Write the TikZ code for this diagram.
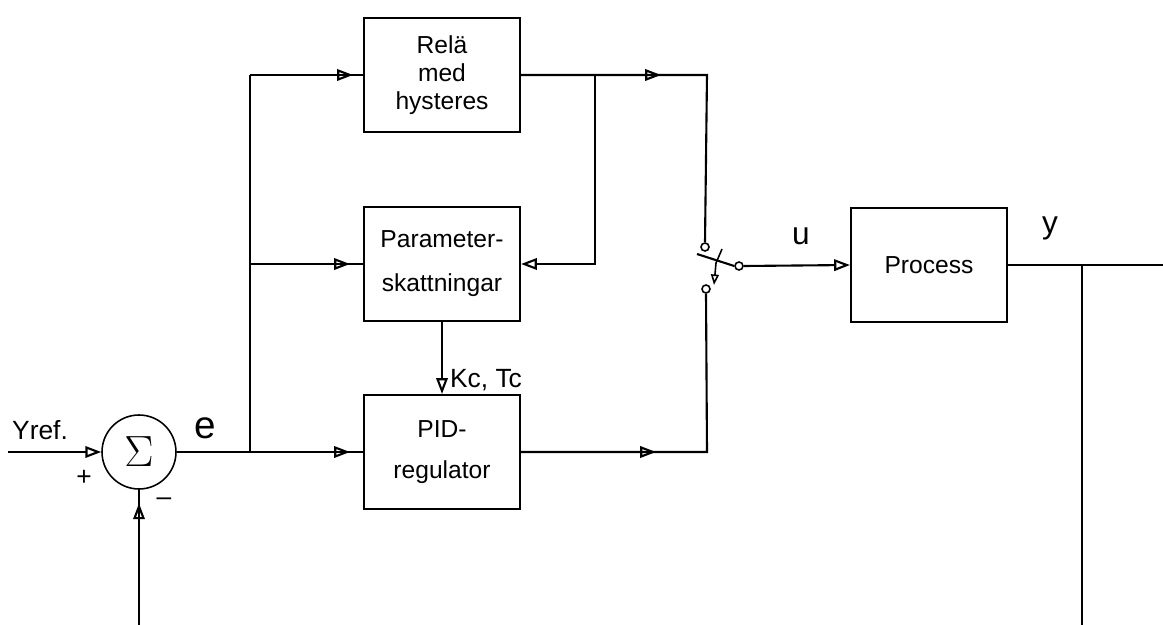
\documentclass[tikz,border=0pt]{standalone}
\usepackage{fontspec}
\setmainfont{Liberation Sans}
\usetikzlibrary{arrows.meta,decorations.markings}
\begin{document}
\begin{tikzpicture}[x=0.02cm,y=-0.02cm,
  line width=1.2pt,
  block/.style={draw, minimum width=3.12cm, minimum height=2.28cm, align=center, font=\fontsize{14}{16}\selectfont},
  sumnode/.style={draw, circle, minimum size=1.48cm, inner sep=0pt, line width=0.9pt},
  contact/.style={draw, circle, fill=white, inner sep=0pt, minimum size=0.16cm, line width=0.9pt},
  lbl/.style={font=\fontsize{15}{17}\selectfont},
  tip/.style={-{Triangle[open,length=9pt,width=6.5pt]}},
  arrowat/.style={postaction={decorate}, decoration={markings, mark=at position #1 with {\arrow{Triangle[open,length=9pt,width=6.5pt]}}}},
]
\useasboundingbox (0,0) rectangle (1163,625);

% blocks
\node[block] (relay) at (442,75) {Relä\\med\\hysteres};
\node[block] (param) at (442,264) {Parameter-\\[9pt]skattningar};
\node[block] (pid) at (442,452) {PID-\\[7pt]regulator};
\node[block] (proc) at (929,265) {Process};
\node[sumnode] (sum) at (139,452) {\fontsize{24}{26}\selectfont$\Sigma$};

% switch contacts
\node[contact] (sw1) at (705,247) {};
\node[contact] (sw2) at (706,289) {};
\node[contact] (swo) at (739,266) {};

% coordinates
\coordinate (yin) at (8,452);
\coordinate (fb) at (139,625);
\coordinate (jE) at (250,452);
\coordinate (jR) at (250,75);
\coordinate (jP) at (250,264);
\coordinate (rc) at (595,75);
\coordinate (rb) at (595,264);
\coordinate (tr) at (707,75);
\coordinate (br) at (707,452);
\coordinate (yj) at (1082,265);
\coordinate (yend) at (1163,265);
\coordinate (fbb) at (1082,625);
\coordinate (blade) at (697,254);
\coordinate (tickA) at (722,249);
\coordinate (tickB) at (716,263);
\coordinate (swarr) at (714,285);

% connectors
\draw[tip] (yin) -- (sum.west);
\draw[arrowat=0.9] (fb) -- (sum.south);
\draw[arrowat=-0.26cm] (sum.east) -- (pid.west);
\draw (jE) -- (jR);
\draw[arrowat=-0.2cm] (jR) -- (relay.west);
\draw[arrowat=-0.26cm] (jP) -- (param.west);
\draw[arrowat=2.8cm] (relay.east) -- (tr) -- (sw1.north);
\draw[tip] (rc) -- (rb) -- (param.east);
\draw[tip] (param.south) -- (pid.north);
\draw[arrowat=2.7cm] (pid.east) -- (br) -- (sw2.south);
\draw (swo.west) -- (blade);
\draw[line width=0.9pt] (tickA) -- (tickB);
\draw[line width=0.9pt, -{Triangle[open,length=6pt,width=4.5pt]}] (tickB) -- (swarr);
\draw[tip] (swo.east) -- (proc.west);
\draw (proc.east) -- (yend);
\draw (yj) -- (fbb);

% labels
\node[lbl] (lyref) at (40,430) {Yref.};
\node[lbl] (lplus) at (84,478) {+};
\node[lbl] (lminus) at (164,502) {–};
\node[font=\fontsize{22}{24}\selectfont] (le) at (205,428) {e};
\node[lbl] (lk) at (486,380) {Kc, Tc};
\node[font=\fontsize{18}{20}\selectfont] (lu) at (801,236) {u};
\node[font=\fontsize{18}{20}\selectfont] (ly) at (1050,228) {y};
\end{tikzpicture}
\end{document}
